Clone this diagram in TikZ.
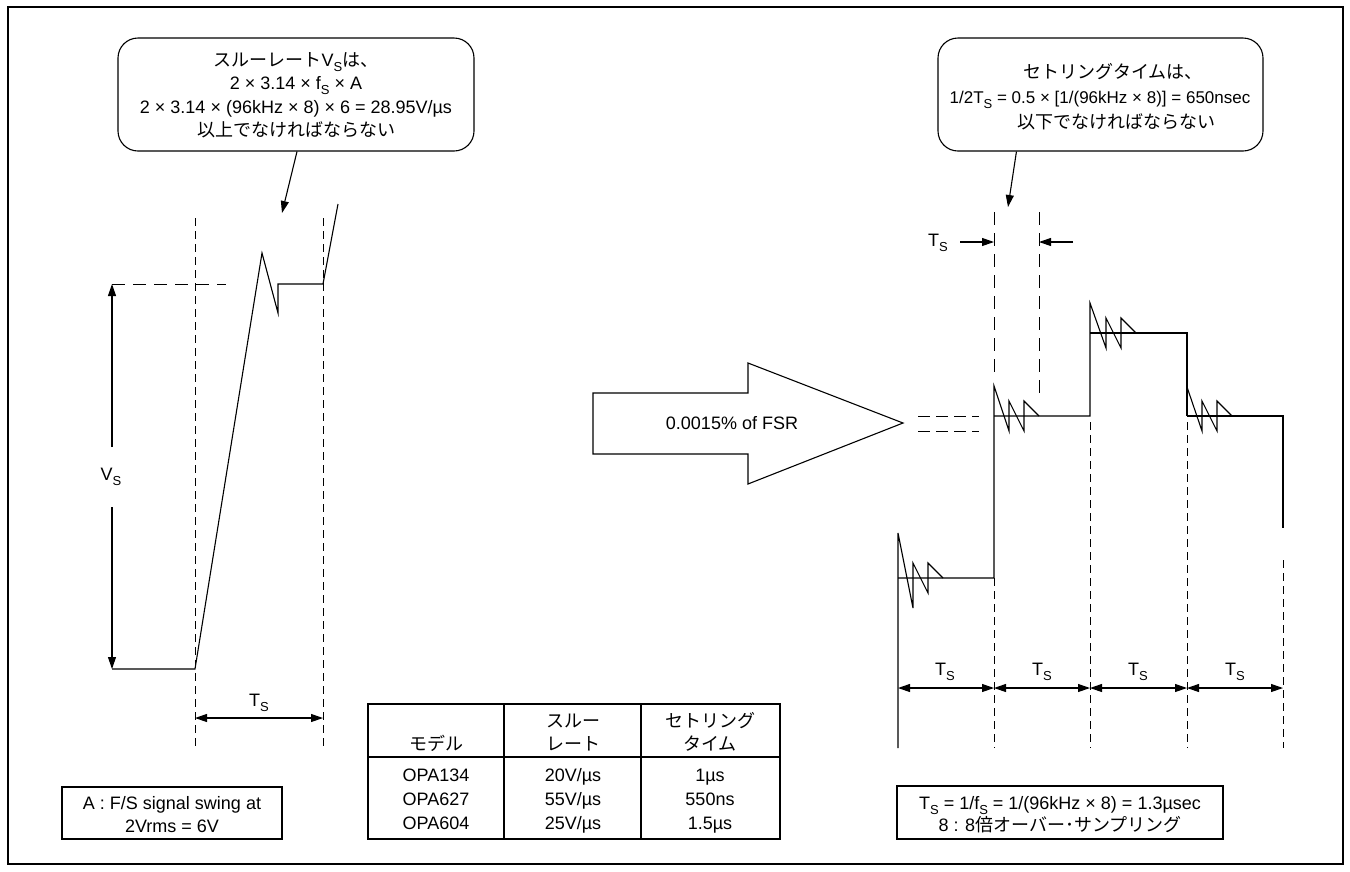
\documentclass[tikz,border=0pt]{standalone}
\usepackage{fontspec}
\setmainfont{Liberation Sans}
\newfontfamily\jp{Noto Sans CJK JP}
\usetikzlibrary{arrows.meta,calc}
\newcommand\sS{\raisebox{-0.28em}{\fontsize{13}{13}\selectfont S}}
\newcommand\J[1]{{\jp #1}}
\begin{document}
\begin{tikzpicture}[x=1pt,y=-1pt,line width=1.1pt,line join=miter,
  txt/.style={anchor=base,inner sep=0pt,font=\fontsize{18}{22}\selectfont},
  lbl/.style={inner sep=0pt,font=\fontsize{18}{22}\selectfont},
  tip/.style={-{Triangle[length=12pt,width=8pt]}},
  dtip/.style={{Triangle[length=12pt,width=8pt]}-{Triangle[length=12pt,width=8pt]}},
  dshort/.style={dash pattern=on 8pt off 5pt,line width=1pt},
  dlong/.style={dash pattern=on 13pt off 8pt,line width=1pt},
  dmid/.style={dash pattern=on 12pt off 6pt,line width=1pt},
  callout/.style={draw,rounded corners=20pt,inner sep=0pt},
  plainbox/.style={draw,inner sep=0pt}]
\useasboundingbox (0,0) rectangle (1350,871);
\fill[white] (0,0) rectangle (1350,871);
\draw (8,7) rectangle (1343,864);

% ---------- left callout ----------
\node[callout,minimum width=356pt,minimum height=113pt] (c1) at (296,94.5) {};
\node[txt] at (296,66.5) {\J{スルーレート}V\sS\J{は、}};
\node[txt] at (296,89.5) {2 × 3.14 × f\sS{} × A};
\node[txt] at (296,113.5) {2 × 3.14 × (96kHz × 8) × 6 = 28.95V/µs};
\node[txt] at (296,136.5) {\J{以上でなければならない}};
\coordinate (c1t) at (282,213);
\draw[tip] ($(c1.south)+(1,0)$) -- (c1t);

% ---------- left waveform ----------
\draw[dshort] (195,218) -- (195,748);
\draw[dshort] (323,218) -- (323,748);
\draw[dlong] (112,284) -- (226,284);
\node[lbl] (vs) at (111,477) {V\sS};
\coordinate (vtop) at (112,284);
\coordinate (vbot) at (112,669);
\coordinate (vu) at (112,447);
\coordinate (vd) at (112,507);
\draw[tip] (vu) -- (vtop);
\draw[tip] (vd) -- (vbot);
\draw (112,669) -- (195,669) -- (262,253) -- (278,313) -- (278,284) -- (323,284) -- (338,204);
\coordinate (l1) at (195,718);
\coordinate (l2) at (323,718);
\draw[dtip] (l1) -- (l2);
\node[lbl] at (259,703) {T\sS};

% ---------- left bottom box ----------
\node[plainbox,minimum width=220pt,minimum height=52pt] (bx1) at (172,813) {};
\node[txt] at (172,809.5) {A : F/S signal swing at};
\node[txt] at (172,832.5) {2Vrms = 6V};

% ---------- table ----------
\node[plainbox,minimum width=412pt,minimum height=135pt] (tbl) at (574,771.5) {};
\draw (504,704) -- (504,839);
\draw (641,704) -- (641,839);
\draw (368,757) -- (780,757);
\node[txt] at (436,750) {\J{モデル}};
\node[txt] at (573,727) {\J{スルー}};
\node[txt] at (573,750) {\J{レート}};
\node[txt] at (710,727) {\J{セトリング}};
\node[txt] at (710,750) {\J{タイム}};
\node[txt] at (436,781.5) {OPA134};
\node[txt] at (436,805.5) {OPA627};
\node[txt] at (436,829.5) {OPA604};
\node[txt] at (573,781.5) {20V/µs};
\node[txt] at (573,805.5) {55V/µs};
\node[txt] at (573,829.5) {25V/µs};
\node[txt] at (710,781.5) {1µs};
\node[txt] at (710,805.5) {550ns};
\node[txt] at (710,829.5) {1.5µs};

% ---------- big arrow ----------
\draw (593,393) -- (748,393) -- (748,363) -- (903,423) -- (748,484) -- (748,454) -- (593,454) -- cycle;
\node[lbl] (fsr) at (732,423) {0.0015\% of FSR};

% ---------- right callout ----------
\node[callout,minimum width=325pt,minimum height=113pt] (c2) at (1100.5,94.5) {};
\node[txt] at (1113,78.5) {\J{セトリングタイムは、}};
\node[txt,font=\fontsize{17}{22}\selectfont] at (1100,103.5) {1/2T\sS{} = 0.5 × [1/(96kHz × 8)] = 650nsec};
\node[txt] at (1116,128) {\J{以下でなければならない}};
\coordinate (c2t) at (1008,207);
\draw[tip] ($(c2.south west)+(79,0)$) -- (c2t);

% ---------- right waveform ----------
\draw[dlong] (994,212) -- (994,372);
\draw[dlong] (1039,212) -- (1039,397);
\draw[dshort] (994,578) -- (994,748);
\draw[dshort] (1090,422) -- (1090,748);
\draw[dshort] (1187,422) -- (1187,748);
\draw[dshort] (1283,560) -- (1283,748);
\draw[dmid] (918,416) -- (979,416);
\draw[dmid] (918,431) -- (979,431);

\draw (898,748) -- (898,533) -- (913,608) -- (913,563) -- (928,593) -- (928,563) -- (943,578);
\draw (898,578) -- (994,578) -- (994,386) -- (1009,431) -- (1009,401) -- (1024,431) -- (1024,401) -- (1039,416);
\draw (994,416) -- (1090,416) -- (1090,303) -- (1106,348) -- (1106,318) -- (1121,348) -- (1121,318) -- (1136,333);
\draw (1090,333) -- (1187,333) -- (1187,416);
\draw (1187,387) -- (1202,431) -- (1202,401) -- (1217,431) -- (1217,401) -- (1232,416);
\draw (1187,416) -- (1283,416) -- (1283,528);

% top T_S arrows
\coordinate (ta1) at (960,242);
\coordinate (ta2) at (994,242);
\coordinate (tb1) at (1073,242);
\coordinate (tb2) at (1039,242);
\draw[tip] (ta1) -- (ta2);
\draw[tip] (tb1) -- (tb2);
\node[lbl] at (938,243) {T\sS};

% bottom T_S dimensions
\coordinate (p0) at (898,688);
\coordinate (p1) at (994,688);
\coordinate (p2) at (1090,688);
\coordinate (p3) at (1187,688);
\coordinate (p4) at (1283,688);
\draw[dtip] (p0) -- (p1);
\draw[dtip] (p1) -- (p2);
\draw[dtip] (p2) -- (p3);
\draw[dtip] (p3) -- (p4);
\node[lbl] at (945,672) {T\sS};
\node[lbl] at (1042,672) {T\sS};
\node[lbl] at (1138,672) {T\sS};
\node[lbl] at (1235,672) {T\sS};

% ---------- right bottom box ----------
\node[plainbox,minimum width=326pt,minimum height=53pt] (bx2) at (1060,812.5) {};
\node[txt] at (1060,809.5) {T\sS{} = 1/f\sS{} = 1/(96kHz × 8) = 1.3µsec};
\node[txt] at (1060,831.5) {8 : 8\J{倍オーバー･サンプリング}};
\end{tikzpicture}
\end{document}
